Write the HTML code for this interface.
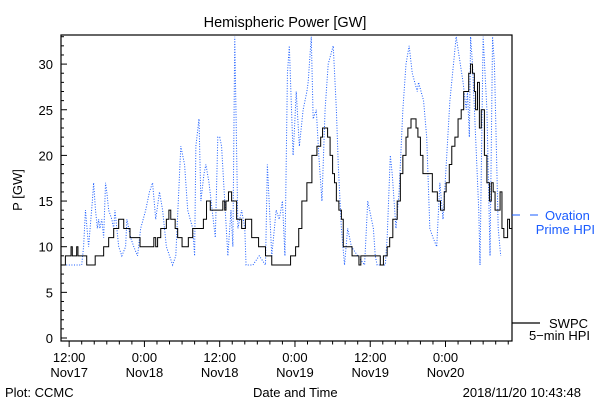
<!DOCTYPE html>
<html><head><meta charset="utf-8"><style>
html,body{margin:0;padding:0;background:#fff;}
svg{display:block;font-family:"Liberation Sans",sans-serif;}
</style></head><body>
<svg id="chart" width="600" height="400" viewBox="0 0 600 400" xmlns="http://www.w3.org/2000/svg">
<defs><clipPath id="plotclip"><rect x="61" y="35" width="451" height="306"/></clipPath></defs>
<text x="285" y="27" font-size="14.5" text-anchor="middle">Hemispheric Power [GW]</text>
<text transform="translate(22,190) rotate(-90)" font-size="13" text-anchor="middle">P [GW]</text>
<g id="yaxis"></g>
<g id="xaxis"></g>
<g clip-path="url(#plotclip)">
<path id="ovation" fill="none" stroke="#1a5cff" stroke-width="1" stroke-dasharray="1,1.6"/>
<path id="swpc" fill="none" stroke="#000" stroke-width="1"/>
</g>
<rect x="61" y="35" width="451" height="306" fill="none" stroke="#000" stroke-width="1.2"/>
<g>
<line x1="512" y1="215" x2="520" y2="215" stroke="#1a5cff"/>
<line x1="530" y1="215" x2="538" y2="215" stroke="#1a5cff"/>
<text x="545" y="220" font-size="13" fill="#1a5cff">Ovation</text>
<text x="595" y="234" font-size="13" fill="#1a5cff" text-anchor="end">Prime HPI</text>
</g>
<g>
<line x1="512" y1="323" x2="540" y2="323" stroke="#000" stroke-width="1.2"/>
<text x="588" y="328" font-size="13" text-anchor="end">SWPC</text>
<text x="590" y="340" font-size="13" text-anchor="end">5−min HPI</text>
</g>
<text x="5" y="397" font-size="13">Plot: CCMC</text>
<text x="253" y="397" font-size="13">Date and Time</text>
<text x="581" y="397" font-size="13" text-anchor="end">2018/11/20 10:43:48</text>
</svg>
<script>
// hours after 12:00 Nov17
const xDomain = [-1.3, 70.6];
const yDomain = [0, 33.2];
const yTicks = [0,5,10,15,20,25,30];
const xTickHours = [0,12,24,36,48,60];
const xTickTime = ["12:00","0:00","12:00","0:00","12:00","0:00"];
const xTickDate = ["Nov17","Nov18","Nov18","Nov19","Nov19","Nov20"];
// SWPC step series: [hour, value]
const swpcHours = [-1.3,-0.6,0.3,0.5,1.2,1.4,2.3,2.8,4.15,5.5,6.3,7.1,7.9,8.7,9.7,11.3,13.5,13.8,14.1,14.6,15.5,15.9,16.2,16.9,17.3,18,19,19.7,21.4,21.9,22.5,24.5,24.8,25,25.4,25.9,26.7,27.5,28.1,29.1,30.2,31.3,32.3,35.3,36.1,36.6,37.1,37.9,38.7,39.5,40.1,40.4,40.6,41.2,41.6,42.0,42.3,42.6,43.0,43.4,43.7,44.0,45.1,45.9,46.2,46.5,49.3,49.6,50.1,50.7,51.1,51.6,52.3,52.8,53.2,53.7,54.0,54.5,55.0,55.3,55.6,56.0,56.4,57.9,58.4,58.7,59.2,59.8,60.1,60.6,61.0,61.5,62.0,62.5,62.9,63.7,64.0,64.3,64.6,64.8,65.1,65.4,65.7,66.2,66.6,67.0,67.3,67.6,67.9,68.4,68.7,69.0,69.3,69.6,69.9,70.2,70.6];
const swpcValues = [8,9,10,9,10,9,9,8,9,10,11,12,13,12,11,10,11,10,11,12,13,14,13,12,11,10,11,12,13,15,14,15,14,15,16,15,13,12,13,11,10,9,8,9,10,12,15,17,20,21,22,23,23,22,20,18,17,15,14,13,10,10,9,9,8,9,9,8,9,10,11,13,15,18,20,22,23,24,24,23,22,20,18,16,16,15,14,16,17,19,21,22,24,25,27,29,30,29,27,25,28,23,25,20,17,15,17,16,14,14,16,12,11,11,13,12,13,11,12,11,13];
// Ovation Prime series: [hour, value]
const ovHours = [-1.3,2.0,2.3,2.6,3.1,3.7,3.9,4.2,4.5,4.7,4.9,5.2,5.5,5.8,6.0,6.3,6.8,7.1,7.3,7.9,8.4,9.0,9.2,9.8,10.3,10.9,11.4,12.2,12.8,13.3,13.8,14.4,14.9,15.5,16.0,16.5,17.0,17.4,17.8,18.4,18.9,19.7,20.0,20.2,20.7,21.0,21.5,21.8,22.3,22.8,23.3,23.7,24.0,24.3,24.8,25.3,25.8,26.1,26.4,26.9,27.5,28.0,28.2,29.3,30.3,31.3,31.6,32.3,33.0,33.5,34.0,34.4,34.8,35.1,35.7,36.0,36.2,36.7,37.3,37.9,38.1,38.6,38.9,39.4,39.8,40.3,40.8,41.3,42.1,42.6,42.9,43.4,43.9,44.4,45.0,46.0,47.1,47.6,48.5,48.8,49.1,49.6,50.1,50.4,50.7,51.2,51.5,52.1,52.6,53.2,53.7,54.2,54.7,55.5,55.7,56.5,57.0,57.5,58.0,58.6,59.1,59.6,60.2,60.7,61.7,62.8,63.3,63.5,63.8,64.0,64.3,65.3,65.5,66.0,66.6,67.1,67.5,67.8,68.4,68.8];
const ovValues = [8,8,10,14,10,15,17,14,12,13,12,13,11,17,16,14,13,12,14,10,9,10,13,11,10,9,12,14,16,17,13,16,14,10,9,8,9,15,21,19,14,12,9,21,24,15,18,19,17,14,11,22,22,21,15,9,14,10,33,12,14,12,8,8,9,8,19,9,14,13,15,9,29,32,20,24,27,21,25,27,28,33,24,25,20,15,25,30,32,25,19,12,8,12,10,9,8,15,12,9,8,8,8,8,11,20,18,12,16,25,30,32,29,27,28,26,22,12,11,10,17,13,20,26,33,28,25,27,22,33,30,14,8,33,25,9,33,30,12,9,17,11,8,33,9,33,14];

const plot = {l:61, r:512, t:35, b:341};
const yBase = 338, yUnit = 9.13;
function X(h){ return plot.l + (h - xDomain[0]) / (xDomain[1]-xDomain[0]) * (plot.r-plot.l); }
function Y(v){ return yBase - v*yUnit; }
const NS="http://www.w3.org/2000/svg";
function mk(tag, attrs, parent){ const e=document.createElementNS(NS,tag); for(const k in attrs) e.setAttribute(k,attrs[k]); parent.appendChild(e); return e; }

const yg=document.getElementById('yaxis');
for(let v=0; v<=33; v++){
  const major = v%5===0;
  const t=mk('line',{x1:plot.l,x2:plot.l+(major?6:3),y1:Y(v),y2:Y(v),stroke:'#000'},yg);
  
  
}
yTicks.forEach(v=>{
  const t=mk('text',{x:plot.l-8,y:Y(v)+5,'font-size':13,'text-anchor':'end'},yg);
  t.textContent=v;
  
  
});
const xg=document.getElementById('xaxis');
for(let h=0; h<=70; h+=2){
  const major = h%12===0;
  const t=mk('line',{x1:X(h),x2:X(h),y1:plot.b,y2:plot.b+(major?6:3.5),stroke:'#000'},xg);
  
  
}
xTickHours.forEach((h,i)=>{
  const a=mk('text',{x:X(h),y:362,'font-size':13,'text-anchor':'middle'},xg);
  a.textContent=xTickTime[i];
  
  
  const b=mk('text',{x:X(h),y:377,'font-size':13,'text-anchor':'middle'},xg);
  b.textContent=xTickDate[i];
  
  
});
let d='';
swpcHours.forEach((h,i)=>{
  if(i===0) d+='M'+X(h)+','+Y(swpcValues[i]);
  else d+='H'+X(h)+'V'+Y(swpcValues[i]);
});
d+='H'+X(xDomain[1]);
document.getElementById('swpc').setAttribute('d',d);
let d2='';
ovHours.forEach((h,i)=>{ d2+=(i?'L':'M')+X(h)+','+Y(ovValues[i]); });
document.getElementById('ovation').setAttribute('d',d2);
</script>
</body></html>
